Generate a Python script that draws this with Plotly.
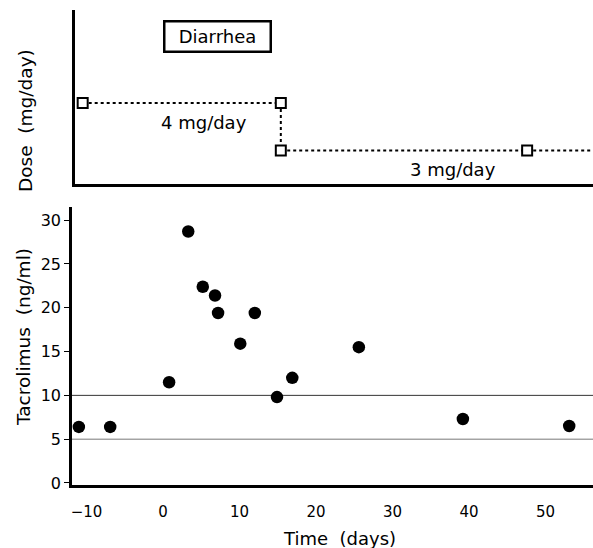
import plotly.graph_objects as go

# Tacrolimus trough levels (bottom panel)
time_days = [-11.0, -6.9, 0.8, 3.3, 5.2, 6.8, 7.2, 12.0, 10.1, 14.9, 16.9, 25.6, 39.2, 53.1]
tacrolimus = [6.4, 6.4, 11.5, 28.7, 22.4, 21.4, 19.4, 19.4, 15.9, 9.8, 12.0, 15.5, 7.3, 6.5]

# Dose regimen (top panel)
dose_days = [-10.5, 15.4, 15.4, 47.6]
dose_mg = [4, 4, 3, 3]
dose_end_day = 57

# Reference range lines
ref_levels = [10, 5]

y_ticks = [0, 5, 10, 15, 20, 25, 30]
x_ticks = [-10, 0, 10, 20, 30, 40, 50]

FONT = "DejaVu Sans, Liberation Sans, sans-serif"
INK = "#000000"

fig = go.Figure()

# dose line (extends to right edge)
fig.add_trace(go.Scatter(
    x=dose_days + [dose_end_day], y=dose_mg + [dose_mg[-1]],
    mode="lines", line=dict(color=INK, width=2, dash="dot"),
    xaxis="x2", yaxis="y2", showlegend=False, hoverinfo="skip"))
fig.add_trace(go.Scatter(
    x=dose_days, y=dose_mg, mode="markers",
    marker=dict(symbol="square", size=10, color="white",
                line=dict(color=INK, width=2)),
    xaxis="x2", yaxis="y2", showlegend=False))

# reference lines
for lv, col in zip(ref_levels, ["#333333", "#777777"]):
    fig.add_trace(go.Scatter(
        x=[-13, 60], y=[lv, lv], mode="lines",
        line=dict(color=col, width=1), showlegend=False, hoverinfo="skip"))

fig.add_trace(go.Scatter(
    x=time_days, y=tacrolimus, mode="markers",
    marker=dict(symbol="circle", size=12.5, color=INK),
    showlegend=False))

W, H = 593, 548
ml, mr, mt, mb = 72, 0, 10, 63
pw = W - ml - mr
ph = H - mt - mb

def px_to_day(px):
    return (px - 163) / 7.65

fig.update_layout(
    width=W, height=H,
    margin=dict(l=ml, r=mr, t=mt, b=mb),
    paper_bgcolor="white", plot_bgcolor="white",
    font=dict(family=FONT, color=INK, size=14),
    xaxis=dict(domain=[0, 1], range=[px_to_day(72), px_to_day(593)],
               tickvals=x_ticks, ticktext=["\u221210" if v == -10 else str(v) for v in x_ticks],
               showline=True, linecolor=INK, linewidth=2.5,
               showgrid=False, zeroline=False, ticks="", ticklabelstandoff=11,
               tickfont=dict(size=15, family=FONT, color=INK)),
    yaxis=dict(domain=[0, (485 - 207) / ph],
               range=[-0.23, 31.5],
               tickvals=y_ticks,
               showline=True, linecolor=INK, linewidth=2.5,
               showgrid=False, zeroline=False, ticks="outside", ticklen=5,
               tickwidth=1, tickcolor=INK,
               tickfont=dict(size=16, family=FONT, color=INK)),
    xaxis2=dict(domain=[3 / pw, 1], anchor="y2",
                range=[px_to_day(75), px_to_day(593)],
                showline=True, linecolor=INK, linewidth=2.5,
                showgrid=False, zeroline=False, showticklabels=False, ticks=""),
    yaxis2=dict(domain=[(485 - 184) / ph, 1], anchor="x2",
                range=[2.295, 5.96],
                showline=True, linecolor=INK, linewidth=2.5,
                showgrid=False, zeroline=False, showticklabels=False, ticks=""),
)

def px_x(px):
    return (px - ml) / pw

def px_y(py):
    return (H - py - mb) / ph

annotations = [
    dict(text="Diarrhea", x=7.12, y=5.41, xref="x2", yref="y2", showarrow=False,
         font=dict(size=18, family=FONT, color=INK),
         bordercolor=INK, borderwidth=2.5, borderpad=0, width=104, height=28,
         bgcolor="white"),
    dict(text="4 mg/day", x=5.4, y=3.6, xref="x2", yref="y2", showarrow=False,
         font=dict(size=18, family=FONT, color=INK)),
    dict(text="3 mg/day", x=37.9, y=2.59, xref="x2", yref="y2", showarrow=False,
         font=dict(size=18, family=FONT, color=INK)),
    dict(text="Dose  (mg/day)", x=px_x(25), y=px_y(121), xref="paper", yref="paper",
         xanchor="center", yanchor="middle", textangle=-90, showarrow=False,
         font=dict(size=18.5, family=FONT, color=INK)),
    dict(text="Tacrolimus  (ng/ml)", x=px_x(23), y=px_y(337), xref="paper", yref="paper",
         xanchor="center", yanchor="middle", textangle=-90, showarrow=False,
         font=dict(size=18.5, family=FONT, color=INK)),
    dict(text="Time  (days)", x=px_x(339), y=px_y(538), xref="paper", yref="paper",
         xanchor="center", yanchor="middle", showarrow=False,
         font=dict(size=18, family=FONT, color=INK)),
]
fig.update_layout(annotations=annotations)

fig.write_html("out.html", config={"displayModeBar": False},
               post_script="document.body.style.margin='0';document.body.style.overflow='hidden';")
